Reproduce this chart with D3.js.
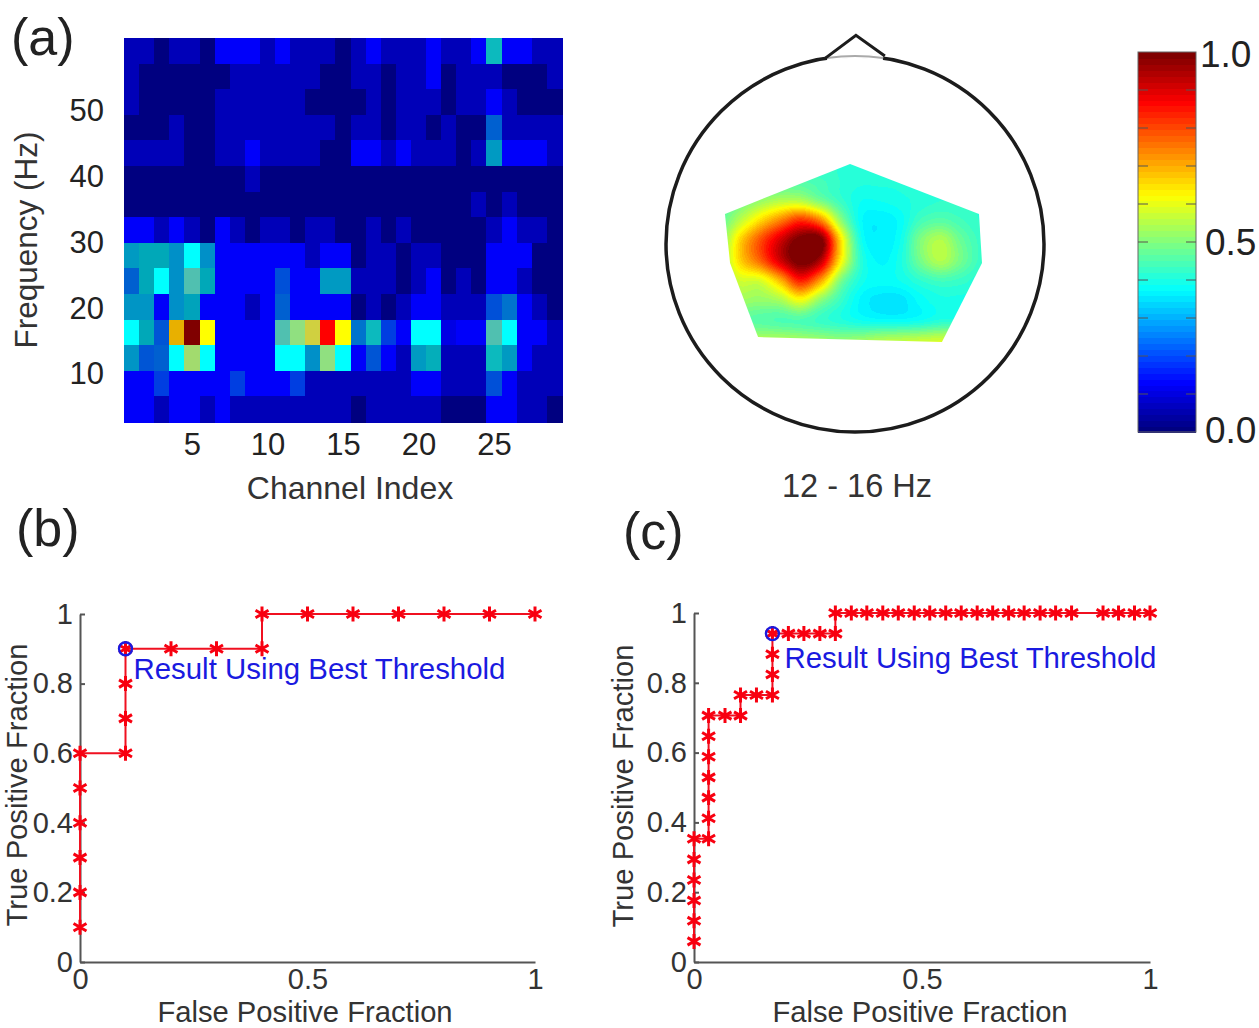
<!DOCTYPE html>
<html lang="en">
  <head>
    <meta charset="UTF-8" />
    <title>Frequency channel map and ROC curves</title>
    <style>
      body {
        margin: 0;
        background: #fff;
        overflow: hidden;
      }
      svg {
        display: block;
        font-family: "Liberation Sans", Arial, sans-serif;
      }
      .roc .tick text {
        fill: #333;
        font-size: 29px;
      }
      .roc path.domain,
      .roc .tick line {
        stroke: #555;
        stroke-width: 2px;
      }
      .heat-axis .tick text {
        fill: #222;
        font-size: 31px;
      }
      .heat-axis path.domain {
        display: none;
      }
      .panel-label {
        font-size: 52px;
        fill: #222;
      }
      .axis-title {
        font-size: 29.2px;
        fill: #333;
      }
    </style>
  </head>
  <body>
    <svg width="1259" height="1028"></svg>

    <script src="https://d3js.org/d3.v7.min.js"></script>
    <script>
      // panel (a) left: channel x frequency map, top row first
      const n = 0,
        d = 0.06,
        b = 0.12;
      const channels = d3.range(1, 30);
      const freqRows = [60, 56, 52, 48, 44, 40, 36, 32, 28, 24, 20, 16, 12, 8, 4];
      const heatValues = [
        [d,d,n,d,d,n,b,b,b,d,b,d,d,d,n,d,b,d,d,d,b,d,d,b,0.33,b,b,d,d],
        [d,n,n,n,n,n,n,d,d,d,d,d,d,n,n,d,d,n,d,d,b,n,d,d,d,n,n,n,d],
        [d,n,n,n,n,n,d,d,d,d,d,d,n,n,n,n,d,n,d,d,d,n,d,d,b,d,n,n,n],
        [n,n,n,d,n,n,d,d,d,d,d,d,d,d,n,d,d,n,d,d,n,d,n,n,0.2,d,d,d,d],
        [d,d,d,d,n,n,d,d,b,d,d,d,d,n,n,b,b,d,b,d,d,d,n,d,0.27,b,b,b,d],
        [n,n,n,n,n,n,n,n,d,n,n,n,n,n,n,n,n,n,n,n,n,n,n,n,n,n,n,n,n],
        [n,n,n,n,n,n,n,n,n,n,n,n,n,n,n,n,n,n,n,n,n,n,n,d,n,d,n,n,n],
        [b,b,d,b,d,n,b,d,n,d,d,n,d,d,n,n,d,n,d,n,n,n,n,n,d,b,d,d,n],
        [0.27,0.3,0.3,0.25,0.38,0.25,b,b,b,b,b,b,d,b,b,n,d,d,n,d,d,n,n,n,b,b,b,n,n],
        [0.2,0.3,0.38,0.25,0.42,0.3,b,b,b,b,0.17,b,b,0.27,0.27,d,d,d,n,d,b,n,d,n,b,b,d,n,n],
        [0.26,0.26,b,0.25,0.29,b,b,b,d,b,0.2,b,b,b,b,n,d,n,d,b,b,d,d,d,0.17,0.22,b,d,n],
        [0.38,0.3,0.18,0.68,1,0.625,b,b,b,b,0.42,0.5,0.57,0.87,0.625,0.22,0.33,0.16,b,0.38,0.38,0.1,b,b,0.42,0.38,b,b,d],
        [0.26,0.18,0.2,0.38,0.52,0.38,b,b,b,b,0.38,0.38,0.25,0.5,0.38,b,0.18,b,d,0.27,0.31,d,d,d,0.33,0.27,b,d,d],
        [b,b,0.16,b,b,b,b,0.16,b,b,b,0.16,d,d,d,d,d,d,d,b,b,d,d,d,0.17,b,d,d,d],
        [b,b,d,b,b,d,b,d,d,d,d,d,d,d,d,n,d,d,d,d,d,n,n,n,b,b,d,d,n],
      ];
      const heatXTicks = [5, 10, 15, 20, 25];
      const heatYTicks = [10, 20, 30, 40, 50];
      // the printed heat map is duller than the colour bar between blue and green
      const heatStops = [0, 0.06, 0.125, 0.17, 0.2, 0.25, 0.3, 0.34, 0.38, 0.42, 0.5, 0.57, 0.625, 0.68, 0.87, 1];
      const heatColors = [
        "#000080", "#0000b8", "#0000ff", "#0050d8", "#0060d0", "#0090c8", "#00a8b8", "#10c0c0",
        "#00ffff", "#50c0b0", "#90e080", "#d0d040", "#ffff00", "#e8b000", "#ff0000", "#800000",
      ];

      // panel (a) middle: scalp map sampled on a grid, in head radii
      const topoX = [-0.714, 0.767];
      const topoY = [0.447, -0.617];
      const topoValues = [
        [0.42,0.42,0.42,0.42,0.42,0.42,0.42,0.42,0.42,0.42,0.42,0.42,0.42,0.42,0.42],
        [0.43,0.44,0.45,0.45,0.45,0.44,0.42,0.41,0.41,0.41,0.42,0.42,0.42,0.42,0.42],
        [0.45,0.48,0.52,0.55,0.55,0.49,0.43,0.39,0.39,0.4,0.41,0.42,0.42,0.42,0.42],
        [0.47,0.56,0.66,0.75,0.83,0.75,0.52,0.38,0.36,0.38,0.44,0.46,0.44,0.42,0.42],
        [0.5,0.67,0.8,0.92,1.02,1.02,0.66,0.4,0.36,0.39,0.5,0.55,0.48,0.43,0.42],
        [0.52,0.67,0.78,0.92,1.02,0.95,0.64,0.42,0.37,0.4,0.49,0.55,0.49,0.43,0.42],
        [0.52,0.58,0.59,0.7,0.85,0.72,0.5,0.4,0.38,0.39,0.42,0.44,0.43,0.41,0.41],
        [0.52,0.53,0.52,0.54,0.61,0.51,0.43,0.37,0.35,0.35,0.38,0.4,0.4,0.4,0.4],
        [0.48,0.47,0.46,0.45,0.45,0.43,0.41,0.39,0.38,0.38,0.39,0.41,0.41,0.41,0.41],
        [0.55,0.55,0.55,0.55,0.54,0.53,0.52,0.53,0.55,0.56,0.57,0.58,0.58,0.58,0.58],
        [0.6,0.6,0.6,0.6,0.6,0.6,0.6,0.6,0.6,0.6,0.6,0.6,0.6,0.6,0.6],
      ];
      const topoOutline = [
        [-0.688,0.16],[-0.026,0.426],[0.656,0.16],[0.672,-0.101],
        [0.46,-0.521],[-0.513,-0.495],[-0.661,-0.101],
      ];
      const noseOutline = [[-0.155,0.99],[0.005,1.11],[0.158,1.0]];

      const colorTicks = [0, 0.1, 0.2, 0.3, 0.4, 0.5, 0.6, 0.7, 0.8, 0.9, 1];
      const colorLabels = [0, 0.5, 1];

      // panels (b) and (c): ROC points
      const rocBX = [0,0,0,0,0,0,0.1,0.1,0.1,0.1,0.2,0.3,0.4,0.4,0.5,0.6,0.7,0.8,0.9,1];
      const rocBY = [0.1,0.2,0.3,0.4,0.5,0.6,0.6,0.7,0.8,0.9,0.9,0.9,0.9,1,1,1,1,1,1,1];
      const rocCX = [
        0,0,0,0,0,0,0.032,0.032,0.032,0.032,0.032,0.032,0.032,0.068,0.102,0.102,0.137,0.172,0.172,0.172,0.172,
        0.207,0.241,0.276,0.31,0.31,0.345,0.379,0.414,0.448,0.483,0.517,0.552,0.586,0.621,0.655,0.69,0.724,
        0.759,0.793,0.828,0.897,0.931,0.966,1,
      ];
      const rocCY = [
        0.059,0.118,0.176,0.235,0.294,0.353,0.353,0.412,0.471,0.529,0.588,0.647,0.706,0.706,0.706,0.765,0.765,0.765,0.824,0.882,0.941,
        0.941,0.941,0.941,0.941,1,1,1,1,1,1,1,1,1,1,1,1,1,1,1,1,1,1,1,1,
      ];
      const rocTicks = [0, 0.2, 0.4, 0.6, 0.8, 1];
      const rocXTicks = [0, 0.5, 1];

      const svg = d3.select("svg");

      const jet = (t) => {
        const c = (o) =>
          Math.round(255 * Math.max(0, Math.min(1, 1.5 - Math.abs(4 * t - o))));
        return `rgb(${c(3)},${c(2)},${c(1)})`;
      };

      // ---- heat map ----
      const heatColor = d3.scaleLinear().domain(heatStops).range(heatColors);
      const heatX = d3.scaleBand().domain(channels).range([124, 562]);
      const heatY = d3.scaleBand().domain(freqRows).range([38, 422]);
      const heatXAxis = d3.scaleLinear().domain([0.5, 29.5]).range([124, 562]);
      const heatYAxis = d3.scaleLinear().domain([2.7, 61.1]).range([422, 38]);

      svg
        .append("g")
        .attr("shape-rendering", "crispEdges")
        .selectAll("g")
        .data(heatValues)
        .join("g")
        .attr("transform", (_, i) => `translate(0,${heatY(freqRows[i])})`)
        .selectAll("rect")
        .data((row) => row)
        .join("rect")
        .attr("x", (_, i) => heatX(channels[i]))
        .attr("width", heatX.bandwidth() + 1)
        .attr("height", heatY.bandwidth() + 1)
        .attr("fill", (v) => heatColor(v));

      svg
        .append("g")
        .attr("class", "heat-axis")
        .attr("transform", "translate(0,423)")
        .call(d3.axisBottom(heatXAxis).tickValues(heatXTicks).tickSize(0).tickPadding(10));

      svg
        .append("g")
        .attr("class", "heat-axis")
        .attr("transform", "translate(124,0)")
        .call(d3.axisLeft(heatYAxis).tickValues(heatYTicks).tickSize(0).tickPadding(20));

      svg
        .append("text")
        .attr("class", "axis-title")
        .attr("x", 350)
        .attr("y", 499)
        .attr("text-anchor", "middle")
        .style("font-size", "32px")
        .text("Channel Index");

      svg
        .append("text")
        .attr("class", "axis-title")
        .attr("transform", "translate(37,240) rotate(-90)")
        .attr("text-anchor", "middle")
        .style("font-size", "31.5px")
        .text("Frequency (Hz)");

      // ---- scalp map ----
      const headX = d3.scaleLinear().domain([-1, 1]).range([666, 1044]);
      const headY = d3.scaleLinear().domain([-1, 1]).range([432, 56]);

      // smooth the coarse grid with a Catmull-Rom patch
      const cr = (p0, p1, p2, p3, t) =>
        0.5 *
        (2 * p1 +
          (p2 - p0) * t +
          (2 * p0 - 5 * p1 + 4 * p2 - p3) * t * t +
          (3 * p1 - p0 - 3 * p2 + p3) * t * t * t);

      const sampleTopo = (gx, gy) => {
        const rows = topoValues.length,
          cols = topoValues[0].length;
        const ix = Math.min(cols - 2, Math.floor(gx)),
          iy = Math.min(rows - 2, Math.floor(gy));
        const at = (r, c) =>
          topoValues[Math.max(0, Math.min(rows - 1, r))][Math.max(0, Math.min(cols - 1, c))];
        const across = [-1, 0, 1, 2].map((k) =>
          cr(at(iy + k, ix - 1), at(iy + k, ix), at(iy + k, ix + 1), at(iy + k, ix + 2), gx - ix)
        );
        return cr(across[0], across[1], across[2], across[3], gy - iy);
      };

      const topoLeft = Math.round(headX(topoX[0])),
        topoRight = Math.round(headX(topoX[1])),
        topoTop = Math.round(headY(topoY[0])),
        topoBottom = Math.round(headY(topoY[1]));
      const canvas = document.createElement("canvas");
      canvas.width = topoRight - topoLeft;
      canvas.height = topoBottom - topoTop;
      const ctx = canvas.getContext("2d");
      const toColX = d3.scaleLinear().domain([0, canvas.width]).range([0, topoValues[0].length - 1]);
      const toRowY = d3.scaleLinear().domain([0, canvas.height]).range([0, topoValues.length - 1]);
      for (let py = 0; py < canvas.height; py++) {
        for (let px = 0; px < canvas.width; px++) {
          const v = Math.max(0, Math.min(1, sampleTopo(toColX(px), toRowY(py))));
          ctx.fillStyle = jet(Math.round(v * 63) / 63);
          ctx.fillRect(px, py, 1, 1);
        }
      }

      const toPoint = (p) => [headX(p[0]), headY(p[1])];
      svg
        .append("clipPath")
        .attr("id", "topo-clip")
        .append("polygon")
        .attr("points", topoOutline.map(toPoint).map((p) => p.join(",")).join(" "));

      svg
        .append("image")
        .attr("href", canvas.toDataURL())
        .attr("x", topoLeft)
        .attr("y", topoTop)
        .attr("width", canvas.width)
        .attr("height", canvas.height)
        .attr("clip-path", "url(#topo-clip)");

      svg
        .append("ellipse")
        .attr("cx", headX(0))
        .attr("cy", headY(0))
        .attr("rx", headX(1) - headX(0))
        .attr("ry", headY(-1) - headY(0))
        .attr("fill", "none")
        .attr("stroke", "#1c1c1c")
        .attr("stroke-width", 3.5);

      // the stretch of head outline under the nose prints paler
      const noseArc = d3.arc().innerRadius(188).outerRadius(188).startAngle(-0.15).endAngle(0.15);
      svg
        .append("path")
        .attr("transform", `translate(${headX(0)},${headY(0)})`)
        .attr("d", noseArc())
        .attr("fill", "none")
        .attr("stroke", "#fff")
        .attr("stroke-width", 5);
      svg
        .append("path")
        .attr("transform", `translate(${headX(0)},${headY(0)})`)
        .attr("d", noseArc())
        .attr("fill", "none")
        .attr("stroke", "#aaa")
        .attr("stroke-width", 2);

      svg
        .append("path")
        .attr("d", d3.line().x((p) => headX(p[0])).y((p) => headY(p[1]))(noseOutline))
        .attr("fill", "none")
        .attr("stroke", "#1c1c1c")
        .attr("stroke-width", 3);

      svg
        .append("text")
        .attr("class", "axis-title")
        .attr("x", 857)
        .attr("y", 497)
        .attr("text-anchor", "middle")
        .style("font-size", "32.5px")
        .text("12 - 16 Hz");

      // ---- colour bar ----
      const barY = d3.scaleLinear().domain([0, 1]).range([432, 52]);
      const barSteps = d3.range(64);
      svg
        .append("g")
        .attr("shape-rendering", "crispEdges")
        .selectAll("rect")
        .data(barSteps)
        .join("rect")
        .attr("x", 1138)
        .attr("width", 58)
        .attr("y", (s) => barY((s + 1) / 64))
        .attr("height", barY(0) - barY(1 / 64) + 1)
        .attr("fill", (s) => jet(s / 63));

      svg
        .append("rect")
        .attr("x", 1138)
        .attr("y", 52)
        .attr("width", 58)
        .attr("height", 380)
        .attr("fill", "none")
        .attr("stroke", "#666");

      const barTicks = svg.append("g").selectAll("g").data(colorTicks.slice(1, -1)).join("g");
      barTicks
        .append("line")
        .attr("x1", 1138)
        .attr("x2", 1148)
        .attr("y1", (t) => barY(t))
        .attr("y2", (t) => barY(t))
        .attr("stroke", "#555");
      barTicks
        .append("line")
        .attr("x1", 1186)
        .attr("x2", 1196)
        .attr("y1", (t) => barY(t))
        .attr("y2", (t) => barY(t))
        .attr("stroke", "#555");

      svg
        .append("g")
        .selectAll("text")
        .data(colorLabels)
        .join("text")
        .attr("x", (t) => (t === 1 ? 1200 : 1205))
        .attr("y", (t) => barY(t) + (t === 0 ? 11 : t === 1 ? 15 : 13))
        .attr("font-size", 37)
        .attr("fill", "#222")
        .text((t) => d3.format(".1f")(t));

      // ---- ROC panels ----
      const asterisk = {
        draw(context, size) {
          const r = Math.sqrt(size);
          for (const a of [Math.PI / 2, Math.PI / 6, -Math.PI / 6]) {
            context.moveTo(-r * Math.cos(a), -r * Math.sin(a));
            context.lineTo(r * Math.cos(a), r * Math.sin(a));
          }
        },
      };

      function drawRoc(opts) {
        const x = d3.scaleLinear().domain([0, 1]).range(opts.xRange);
        const y = d3.scaleLinear().domain([0, 1]).range(opts.yRange);
        const points = opts.xs.map((v, i) => [v, opts.ys[i]]);
        const g = svg.append("g").attr("class", "roc");

        g.append("g")
          .attr("transform", `translate(0,${opts.yRange[0]})`)
          .call(
            d3.axisBottom(x).tickValues(rocXTicks).tickFormat(String)
              .tickSizeInner(-5).tickSizeOuter(0).tickPadding(6)
          )
          .selectAll(".tick line")
          .attr("display", "none");

        g.append("g")
          .attr("transform", `translate(${opts.xRange[0]},0)`)
          .call(
            d3.axisLeft(y).tickValues(rocTicks).tickFormat(String)
              .tickSizeInner(-5).tickSizeOuter(0).tickPadding(7)
          );

        g.append("path")
          .attr("d", d3.line().x((p) => x(p[0])).y((p) => y(p[1]))(points))
          .attr("fill", "none")
          .attr("stroke", "#f01020")
          .attr("stroke-width", 2);

        g.append("g")
          .selectAll("path")
          .data(points)
          .join("path")
          .attr("transform", (p) => `translate(${x(p[0])},${y(p[1])})`)
          .attr("d", d3.symbol().type(asterisk).size(56))
          .attr("fill", "none")
          .attr("stroke", "#f80010")
          .attr("stroke-width", 3);

        g.append("circle")
          .attr("cx", x(opts.best[0]))
          .attr("cy", y(opts.best[1]))
          .attr("r", 6.5)
          .attr("fill", "none")
          .attr("stroke", "#1a1ae0")
          .attr("stroke-width", 2.4);

        g.append("text")
          .attr("x", x(opts.best[0]) + opts.noteOffset[0])
          .attr("y", y(opts.best[1]) + opts.noteOffset[1])
          .attr("font-size", 29.4)
          .attr("fill", "#1a1ae0")
          .text("Result Using Best Threshold");

        g.append("text")
          .attr("class", "axis-title")
          .attr("x", opts.xTitle[0])
          .attr("y", opts.xTitle[1])
          .attr("text-anchor", "middle")
          .text("False Positive Fraction");

        g.append("text")
          .attr("class", "axis-title")
          .attr("transform", `translate(${opts.yTitle[0]},${opts.yTitle[1]}) rotate(-90)`)
          .attr("text-anchor", "middle")
          .text("True Positive Fraction");
      }

      drawRoc({
        xs: rocBX,
        ys: rocBY,
        best: [0.1, 0.9],
        xRange: [80, 535],
        yRange: [962, 614],
        noteOffset: [8, 30],
        xTitle: [305, 1021.5],
        yTitle: [27, 785],
      });

      drawRoc({
        xs: rocCX,
        ys: rocCY,
        best: [0.172, 0.941],
        xRange: [694, 1150],
        yRange: [962, 613],
        noteOffset: [12, 34],
        xTitle: [920, 1021.5],
        yTitle: [633, 786],
      });

      svg
        .append("g")
        .selectAll("text")
        .data([
          ["(a)", 11, 55],
          ["(b)", 16, 546],
          ["(c)", 623, 549],
        ])
        .join("text")
        .attr("class", "panel-label")
        .attr("x", (t) => t[1])
        .attr("y", (t) => t[2])
        .text((t) => t[0]);
    </script>
  </body>
</html>
